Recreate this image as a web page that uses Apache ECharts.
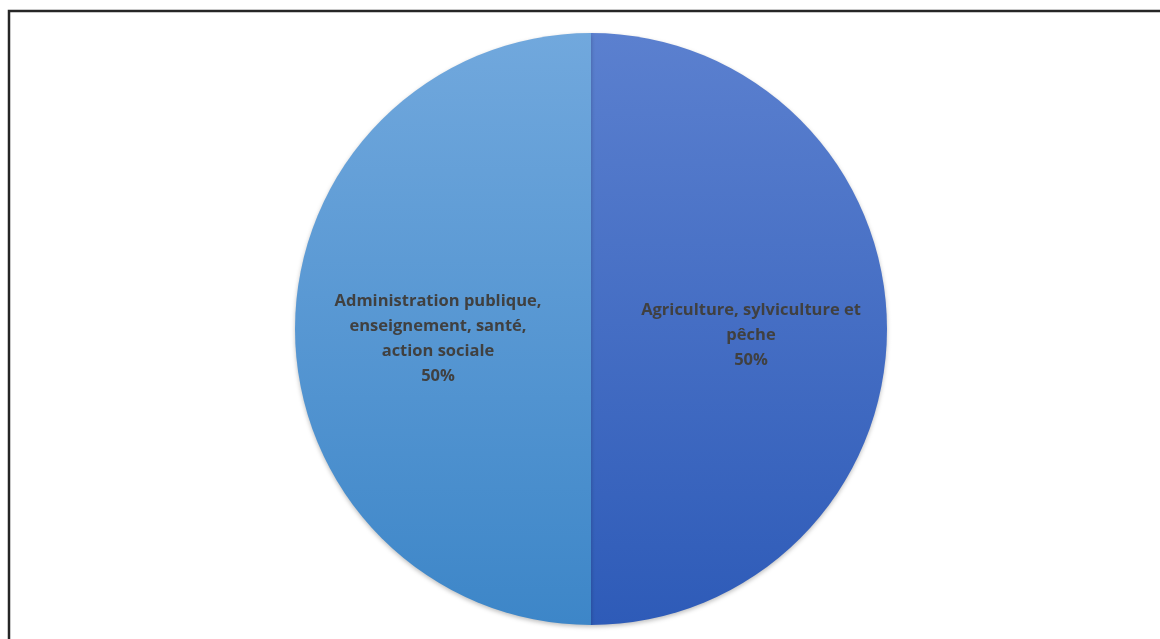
<!DOCTYPE html>
<html>
<head>
<meta charset="utf-8">
<script src="https://cdn.jsdelivr.net/npm/echarts@6/dist/echarts.min.js"></script>
<style>
  html, body { margin: 0; padding: 0; background: #ffffff; }
  #chart { width: 1160px; height: 639px; }
</style>
</head>
<body>
<div id="chart"></div>
<script>
// Sector shares (percent)
const categories = [
  'Agriculture, sylviculture et\npêche',
  'Administration publique,\nenseignement, santé,\naction sociale'
];
const values = [50, 50];

// Vertical gradients per slice (top colour, bottom colour)
const sliceColors = [
  ['#5b80cf', '#2e5bb8'],
  ['#71a8dd', '#3d86c8']
];

const chart = echarts.init(document.getElementById('chart'));

chart.setOption({
  animation: false,
  backgroundColor: '#ffffff',
  graphic: [{
    type: 'rect',
    shape: { x: 9, y: 11, width: 1200, height: 700 },
    style: { fill: 'none', stroke: '#262626', lineWidth: 2.5 },
    silent: true
  }],
  series: [{
    type: 'pie',
    center: [591, 329],
    radius: [0, 296],
    startAngle: 90,
    clockwise: true,
    data: categories.map((name, i) => ({
      name: name,
      value: values[i],
      itemStyle: {
        color: new echarts.graphic.LinearGradient(0, 0, 0, 1, [
          { offset: 0, color: sliceColors[i][0] },
          { offset: 1, color: sliceColors[i][1] }
        ])
      },
      label: { offset: i === 0 ? [9, 6] : [-2, 10] }
    })),
    itemStyle: {
      borderWidth: 0,
      shadowBlur: 4,
      shadowOffsetY: 2,
      shadowColor: 'rgba(0,0,0,0.25)'
    },
    label: {
      show: true,
      position: 'inside',
      formatter: '{b}\n{d}%',
      color: '#404040',
      fontFamily: 'Open Sans',
      fontWeight: 'bold',
      fontSize: 16.5,
      lineHeight: 25,
      align: 'center'
    },
    labelLine: { show: false },
    emphasis: { disabled: true }
  }]
});
</script>
</body>
</html>
